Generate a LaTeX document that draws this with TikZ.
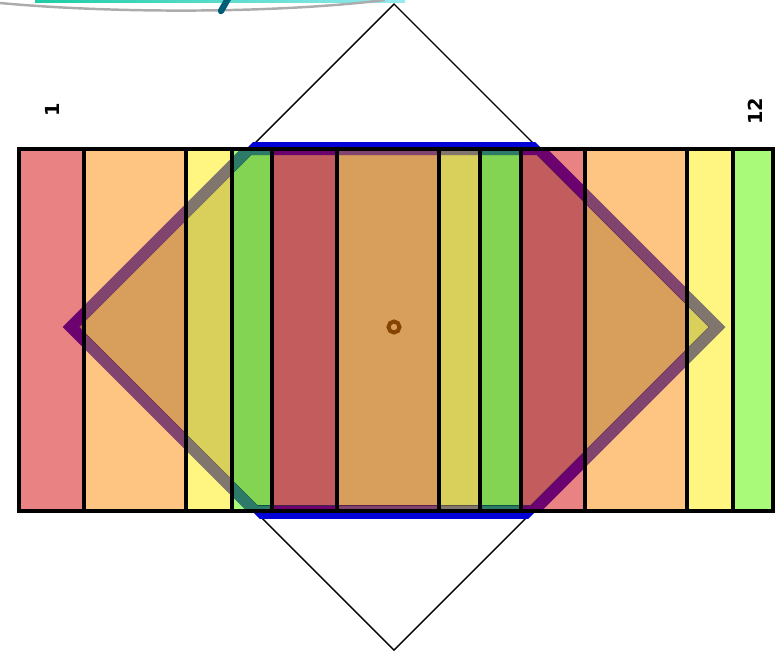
\documentclass[tikz,border=0pt]{standalone}
\usepackage{fontspec}
\setmainfont{DejaVu Sans}
\usepackage{tikz}
\usetikzlibrary{calc}
\usepackage{xcolor}
\definecolor{stripeR}{RGB}{233, 130, 130}
\definecolor{stripeO}{RGB}{254, 196, 129}
\definecolor{stripeY}{RGB}{254, 246, 128}
\definecolor{stripeG}{RGB}{170, 250, 122}
\definecolor{bandFill}{RGB}{38, 38, 38}
\definecolor{bandLine}{RGB}{125, 128, 18}
\definecolor{edgeBlue}{RGB}{0, 0, 215}
\definecolor{dotBrown}{RGB}{135, 68, 0}
\definecolor{arcTeal}{RGB}{30, 205, 165}
\definecolor{arcCyan}{RGB}{150, 235, 240}
\definecolor{markTeal}{RGB}{0, 95, 118}

\begin{document}
\begin{tikzpicture}[x=0.02cm, y=-0.02cm, font=\fontsize{11}{13}\selectfont\bfseries,
    border/.style={line width=0.09cm, black}]
  \useasboundingbox (0,0) rectangle (777,650);
  % centre of the turned square and its half diagonal
  \def\cx{394}
  \def\cy{327}
  \def\d{323}

  % cut-off arcs at the top edge
  \shade[left color=arcTeal, right color=arcCyan] (35,0.5) rectangle (405,2.5);
  \draw[gray!65, line width=1.4pt] (0,3) .. controls (120,14) and (280,13) .. (385,0);
  \draw[markTeal, line width=3.6pt, line cap=round] (229,-3) -- (221,11);

  % thin turned square
  \draw[line width=0.8pt] (\cx,\cy-\d) -- (\cx+\d,\cy) -- (\cx,\cy+\d) -- (\cx-\d,\cy) -- cycle;

  % blue rims above and below the strip
  \begin{scope}
    \clip (0,142) rectangle (777,149);
    \fill[edgeBlue] (\cx,\cy-326) -- (\cx+326,\cy) -- (\cx,\cy+326) -- (\cx-326,\cy) -- cycle;
  \end{scope}
  \begin{scope}
    \clip (0,511) rectangle (777,518);
    \fill[edgeBlue] (\cx,\cy-326) -- (\cx+326,\cy) -- (\cx,\cy+326) -- (\cx-326,\cy) -- cycle;
  \end{scope}

  % coloured stripes
  \foreach \xa/\xb/\col in {19/84/stripeR, 84/186/stripeO, 186/232/stripeY, 232/272/stripeG,
      272/337/stripeR, 337/439/stripeO, 439/480/stripeY, 480/521/stripeG,
      521/585/stripeR, 585/687/stripeO, 687/733/stripeY, 733/773/stripeG} {
    \fill[\col] (\xa,149) rectangle (\xb,511);
  }

  % darker band inside the square
  \begin{scope}[blend mode=difference]
    \clip (0,155) rectangle (777,505);
    \fill[bandFill] (\cx,\cy-315) -- (\cx+315,\cy) -- (\cx,\cy+315) -- (\cx-315,\cy) -- cycle;
  \end{scope}
  \begin{scope}[blend mode=difference]
    \clip (19,149) rectangle (773,511);
    \draw[bandLine, line width=0.24cm, line join=miter]
      (\cx-\d,\cy) -- (\cx-\d+\cy-149,149) -- (\cx+\d-\cy+149,149) -- (\cx+\d,\cy)
      -- (\cx+\d-511+\cy,511) -- (\cx-\d+511-\cy,511) -- cycle;
  \end{scope}

  % stripe borders
  \draw[border] (19,149) rectangle (773,511);
  \foreach \x in {84,186,232,272,337,439,480,521,585,687,733} {
    \draw[border] (\x,149) -- (\x,511);
  }

  % centre mark
  \draw[dotBrown, line width=0.08cm] (\cx,\cy) circle[radius=5.5];

  % end labels
  \node[rotate=90] (first) at (52,110) {1};
  \node[rotate=90] (last) at (755,111) {12};
\end{tikzpicture}
\end{document}
